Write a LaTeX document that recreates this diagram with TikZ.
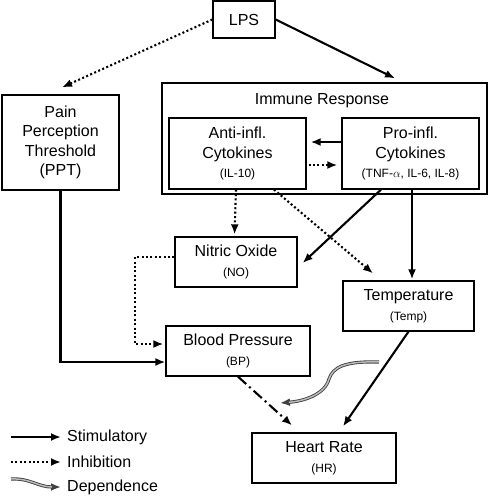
\documentclass[tikz,border=0pt]{standalone}
\usepackage{fontspec}
\setmainfont{Liberation Sans}
\usetikzlibrary{arrows.meta,calc}
\newcommand\myBig{\fontsize{16}{19.5}\selectfont}
\newcommand\mySmall{\fontsize{12}{19.5}\selectfont}
\tikzset{
  box/.style={draw, line width=1.3pt, inner sep=0pt, align=center, font=\myBig},
  tip/.style={-{Latex[length=10pt,width=8pt]}},
  stim/.style={tip, line width=2.1pt},
  inhib/.style={tip, line width=2.1pt, dash pattern=on 2pt off 2.4pt},
  dashdot/.style={tip, line width=2.1pt, dash pattern=on 11pt off 4pt on 2pt off 4pt},
  depout/.style={tip, line width=3.2pt, black!75},
  depin/.style={line width=1.5pt, gray!55, shorten >=9pt},
  lbl/.style={anchor=west, inner sep=0pt, font=\myBig}
}
\begin{document}
\begin{tikzpicture}[x=1pt,y=-1pt]
\useasboundingbox (0,0) rectangle (489,500);
% nodes
\node[box, minimum width=62pt, minimum height=37pt] (lps) at (244,19.5) {LPS};
\node[box, minimum width=117pt, minimum height=95pt] (ppt) at (60.5,142.5) {Pain\\Perception\\Threshold\\(PPT)};
\node[box, minimum width=325pt, minimum height=111pt] (imm) at (324.5,138.5) {};
\node[font=\myBig, inner sep=0pt] (immt) at (322,101) {Immune Response};
\node[box, minimum width=137pt, minimum height=71pt] (anti) at (237.5,153.5) {Anti-infl.\\Cytokines\\{\mySmall (IL-10)}};
\node[box, minimum width=137pt, minimum height=71pt] (pro) at (410.5,153.5) {Pro-infl.\\Cytokines\\{\mySmall (TNF-$\alpha$, IL-6, IL-8)}};
\node[box, minimum width=122pt, minimum height=50pt] (no) at (236,262) {Nitric Oxide\\{\mySmall (NO)}};
\node[box, minimum width=131pt, minimum height=50pt] (temp) at (408.5,306) {Temperature\\{\mySmall (Temp)}};
\node[box, minimum width=144pt, minimum height=50pt] (bp) at (238,351) {Blood Pressure\\{\mySmall (BP)}};
\node[box, minimum width=144pt, minimum height=50pt] (hr) at (324,458) {Heart Rate\\{\mySmall (HR)}};
% connectors
\draw[inhib] (lps.west) -- ([shift={(1.5pt,7pt)}]ppt.north);
\draw[stim] (lps.east) -- ([shift={(70.5pt,4pt)}]imm.north);
\draw[stim] ([yshift=11.5pt]pro.west) -- ([shift={(4pt,11.5pt)}]anti.east);
\draw[inhib] ([shift={(2pt,-11.5pt)}]anti.east) -- ([shift={(-4pt,-11.5pt)}]pro.west);
\draw[inhib] ([xshift=-1.5pt]anti.south) -- ([shift={(-1.5pt,2pt)}]no.north);
\draw[inhib] ([xshift=36.5pt]anti.south) -- ([shift={(-35.5pt,7pt)}]temp.north);
\draw[stim] ([xshift=-29.5pt]pro.south) -- ([shift={(5pt,-1pt)}]no.east);
\draw[stim] ([xshift=1.5pt]pro.south) -- ([shift={(3.5pt,1pt)}]temp.north);
\draw[stim] (ppt.south) |- ([yshift=-11pt]bp.west);
\coordinate (nobend) at (135,300);
\draw[inhib] ([yshift=5pt]no.west) -| (nobend) |- ([shift={(-2pt,7pt)}]bp.west);
\draw[dashdot] (bp.south) -- ([shift={(-32pt,7pt)}]hr.north);
\draw[stim] (temp.south) -- ([shift={(19pt,6pt)}]hr.north);
\coordinate (depA) at (379,362);
\coordinate (depB) at (280,403);
\draw[depout] (depA) .. controls (345,361) and (333,367) .. (329,379) .. controls (325,394) and (305,401) .. (depB);
\draw[depin] (depA) .. controls (345,361) and (333,367) .. (329,379) .. controls (325,394) and (305,401) .. (depB);
% legend
\coordinate (l1a) at (11,437); \coordinate (l1b) at (61,437);
\coordinate (l2a) at (11,462); \coordinate (l2b) at (61,462);
\coordinate (l3a) at (11,479); \coordinate (l3b) at (61,487);
\draw[stim] (l1a) -- (l1b);
\draw[inhib] (l2a) -- (l2b);
\draw[depout] (l3a) .. controls (30,478) and (38,487) .. (l3b);
\draw[depin] (l3a) .. controls (30,478) and (38,487) .. (l3b);
\node[lbl] (lt1) at (67,437) {Stimulatory};
\node[lbl] (lt2) at (67,462) {Inhibition};
\node[lbl] (lt3) at (67,487) {Dependence};
\end{tikzpicture}
\end{document}
